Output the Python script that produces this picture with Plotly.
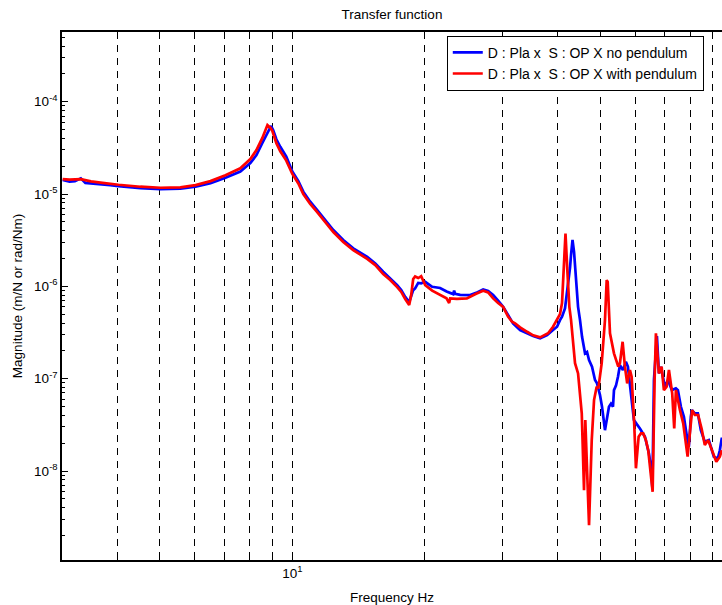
import math
import plotly.graph_objects as go

# ---- data ----
blue_f = [3.01, 3.12, 3.21, 3.31, 3.39, 3.58, 3.67, 3.86, 4.03, 4.52, 5.02, 5.57, 6.03, 6.52, 7.05, 7.62,
          8.03, 8.29, 8.55, 8.78, 8.95, 9.05, 9.20, 9.39, 9.69, 10.0, 10.32, 10.59, 10.98, 11.39, 11.88,
          12.39, 13.05, 13.75, 14.79, 15.43, 16.08, 16.68, 17.30, 17.67, 18.04, 18.42, 18.61, 18.81, 19.0,
          19.31, 19.61, 20.03, 20.77, 21.65, 22.4, 23.18, 23.30, 23.42, 24.04, 24.67, 25.33, 26.14, 27.11,
          27.83, 28.57, 29.32, 30.10, 30.88, 31.70, 32.89, 34.12, 35.21, 36.52, 37.87, 39.07, 39.90, 40.52,
          40.95, 41.59, 42.26, 42.70, 42.93, 43.26, 43.61, 44.06, 44.53, 44.99, 45.47, 46.18, 46.67, 47.16,
          47.90, 48.66, 49.17, 49.94, 50.47, 51.26, 51.80, 52.34, 52.89, 53.45, 53.73, 54.29, 54.86, 55.43,
          56.30, 57.18, 57.78, 58.71, 59.63, 60.57, 61.53, 63.17, 64.50, 65.17, 65.68, 66.21, 67.25, 67.96,
          68.67, 69.39, 70.12, 71.23, 72.73, 74.27, 75.05, 76.24, 77.44, 78.67, 79.47, 80.30, 80.72, 81.99,
          83.29, 84.60, 86.39, 88.22, 90.55, 92.47, 93.44, 94.43]
blue_m = [1.42e-5, 1.36e-5, 1.38e-5, 1.48e-5, 1.32e-5, 1.30e-5, 1.28e-5, 1.25e-5, 1.22e-5, 1.16e-5,
          1.13e-5, 1.14e-5, 1.20e-5, 1.31e-5, 1.50e-5, 1.75e-5, 2.17e-5, 2.64e-5, 3.57e-5, 4.55e-5,
          5.46e-5, 4.90e-5, 3.92e-5, 3.25e-5, 2.54e-5, 1.75e-5, 1.38e-5, 1.06e-5, 8.26e-6, 6.70e-6,
          5.22e-6, 4.07e-6, 3.18e-6, 2.58e-6, 2.09e-6, 1.77e-6, 1.44e-6, 1.22e-6, 1.03e-6, 9.1e-7,
          7.7e-7, 6.76e-7, 7.9e-7, 9.1e-7, 9.5e-7, 1.09e-6, 1.08e-6, 1.12e-6, 9.9e-7, 9.6e-7, 8.8e-7,
          8.25e-7, 9.0e-7, 8.3e-7, 8.1e-7, 8.05e-7, 8.05e-7, 8.5e-7, 9.28e-7, 8.9e-7, 8.05e-7, 7.0e-7,
          6.01e-7, 4.9e-7, 3.97e-7, 3.36e-7, 3.1e-7, 2.9e-7, 2.73e-7, 2.97e-7, 3.36e-7, 3.65e-7, 4.31e-7,
          4.69e-7, 5.78e-7, 9.9e-7, 1.6e-6, 2.2e-6, 3.18e-6, 2.35e-6, 1.27e-6, 6.0e-7, 4.31e-7, 2.84e-7,
          1.88e-7, 1.95e-7, 1.59e-7, 1.35e-7, 9.66e-8, 8.9e-8, 6.64e-8, 4.96e-8, 2.77e-8, 3.87e-8, 4.96e-8,
          5.36e-8, 4.96e-8, 7.52e-8, 8.4e-8, 1.05e-7, 1.4e-7, 1.24e-7, 1.52e-7, 1.35e-7, 6.93e-8, 3.56e-8,
          3.2e-8, 2.89e-8, 2.35e-8, 1.55e-8, 1.1e-8, 6.5e-9, 9.66e-8, 2.9e-7, 1.14e-7, 1.35e-7, 1.05e-7,
          8.17e-8, 9.66e-8, 7.52e-8, 7.85e-8, 7.52e-8, 4.96e-8, 3.87e-8, 2.35e-8, 1.83e-8, 3.87e-8, 4.57e-8,
          4.21e-8, 4.21e-8, 2.77e-8, 2.07e-8, 2.16e-8, 1.43e-8, 1.37e-8, 1.68e-8, 2.3e-8]

red_f = [3.01, 3.12, 3.31, 3.49, 3.67, 3.86, 4.03, 4.52, 5.02, 5.57, 6.03, 6.52, 7.05, 7.62, 8.03, 8.29,
         8.55, 8.78, 8.92, 9.01, 9.20, 9.39, 9.69, 10.0, 10.32, 10.59, 10.98, 11.39, 11.88, 12.39, 13.05,
         13.75, 14.79, 15.43, 16.08, 16.68, 17.30, 17.67, 18.04, 18.42, 18.61, 18.81, 19.0, 19.31, 19.61,
         20.03, 20.77, 21.65, 22.39, 22.70, 22.82, 23.63, 24.90, 26.14, 27.11, 27.83, 28.57, 29.32, 30.10,
         30.88, 31.54, 32.04, 32.89, 34.12, 35.21, 36.52, 38.07, 39.07, 39.90, 40.52, 40.95, 41.31, 41.70,
         42.10, 42.55, 42.93, 43.45, 43.83, 44.53, 44.99, 45.40, 45.94, 46.25, 47.16, 47.83, 48.41, 49.08,
         49.51, 50.39, 51.26, 51.72, 51.99, 52.62, 53.73, 54.95, 55.43, 56.21, 56.89, 57.57, 58.40, 58.92,
         59.72, 60.26, 61.12, 61.85, 62.60, 63.49, 64.26, 65.76, 66.44, 66.90, 67.96, 68.92, 69.75, 70.74,
         71.61, 72.84, 73.62, 74.27, 75.84, 77.16, 78.95, 80.84, 81.99, 83.42, 84.93, 86.39, 87.90, 89.92,
         91.73, 93.44, 94.43]
red_m = [1.45e-5, 1.43e-5, 1.45e-5, 1.37e-5, 1.33e-5, 1.29e-5, 1.26e-5, 1.20e-5, 1.17e-5, 1.18e-5,
         1.25e-5, 1.38e-5, 1.60e-5, 1.90e-5, 2.39e-5, 2.99e-5, 4.05e-5, 5.59e-5, 5.2e-5, 4.8e-5, 3.56e-5,
         2.9e-5, 2.3e-5, 1.65e-5, 1.30e-5, 1.0e-5, 7.8e-6, 6.38e-6, 4.91e-6, 3.88e-6, 3.02e-6, 2.47e-6,
         1.98e-6, 1.70e-6, 1.36e-6, 1.17e-6, 9.8e-7, 8.7e-7, 7.3e-7, 6.27e-7, 8.0e-7, 1.2e-6, 1.28e-6,
         1.23e-6, 1.29e-6, 1.03e-6, 9.0e-7, 8.05e-7, 7.41e-7, 6.6e-7, 7.4e-7, 7.3e-7, 7.41e-7, 8.3e-7,
         8.96e-7, 8.6e-7, 7.41e-7, 6.6e-7, 6.0e-7, 4.7e-7, 4.13e-7, 3.97e-7, 3.6e-7, 3.22e-7, 2.95e-7,
         2.8e-7, 3.1e-7, 3.65e-7, 4.31e-7, 5.0e-7, 6.6e-7, 1.38e-6, 3.74e-6, 1.5e-6, 6.0e-7, 4.3e-7,
         2.41e-7, 1.47e-7, 1.14e-7, 6.37e-8, 4.21e-8, 6.2e-9, 3.56e-8, 2.59e-9, 2.16e-8, 5.86e-8, 8.17e-8,
         7.85e-8, 1.47e-7, 4.31e-7, 1.17e-6, 1.12e-6, 3.1e-7, 1.88e-7, 1.35e-7, 1.47e-7, 2.51e-7, 1.35e-7,
         8.89e-8, 1.24e-7, 1.05e-7, 3.28e-8, 1.07e-8, 2.35e-8, 2.55e-8, 2.55e-8, 2.16e-8, 1.68e-8, 5.96e-9,
         9.66e-8, 3.1e-7, 1.14e-7, 1.35e-7, 7.52e-8, 8.17e-8, 1.24e-7, 6.93e-8, 2.89e-8, 7.52e-8, 4.57e-8,
         3.28e-8, 1.43e-8, 4.57e-8, 4.04e-8, 4.04e-8, 2.89e-8, 1.91e-8, 2.16e-8, 1.61e-8, 1.26e-8, 1.43e-8,
         1.68e-8]

x_tick_vals = [4, 5, 6, 7, 8, 9, 10, 20, 30, 40, 50, 60, 70, 80, 90]
x_tick_text = ["", "", "", "", "", "", "10<sup>1</sup>", "", "", "", "", "", "", "", ""]
y_tick_vals = [1e-8, 1e-7, 1e-6, 1e-5, 1e-4]
y_tick_text = ["10<sup>-8</sup>", "10<sup>-7</sup>", "10<sup>-6</sup>", "10<sup>-5</sup>", "10<sup>-4</sup>"]
y_minor_vals = [m * 10.0 ** e for e in range(-9, -3) for m in range(2, 10)]

series_names = ["D : Pla x  S : OP X no pendulum", "D : Pla x  S : OP X with pendulum"]

FONT = "Arial, Liberation Sans, sans-serif"
FS = 13.5

fig = go.Figure()
fig.add_trace(go.Scatter(x=blue_f, y=blue_m, mode="lines", name=series_names[0],
                         line=dict(color="#0000ff", width=2.7)))
fig.add_trace(go.Scatter(x=red_f, y=red_m, mode="lines", name=series_names[1],
                         line=dict(color="#ff0000", width=2.7)))

fig.update_layout(
    width=722, height=605,
    margin=dict(l=62, r=0, t=32, b=45),
    paper_bgcolor="white", plot_bgcolor="white",
    font=dict(family=FONT, size=FS, color="black"),
    title=dict(text="Transfer function", x=0.5, xref="paper", y=1 - 14 / 605, yref="container",
               xanchor="center", yanchor="middle", font=dict(size=FS, color="black")),
    showlegend=True,
    legend=dict(x=0.583, y=0.993, xanchor="left", yanchor="top", bgcolor="white",
                bordercolor="black", borderwidth=1, font=dict(size=FS + 0.5), itemwidth=30,
                tracegroupgap=0),
)
fig.update_xaxes(
    type="log", range=[math.log10(3.0), math.log10(94.5)],
    tickmode="array", tickvals=x_tick_vals, ticktext=x_tick_text,
    ticks="inside", ticklen=5, tickcolor="black", tickwidth=1,
    showline=True, linecolor="black", linewidth=1.5, mirror="ticks",
    showgrid=True, gridcolor="black", gridwidth=1, griddash="7px,6px",
    zeroline=False, title=dict(text="Frequency Hz", font=dict(size=FS)),
    tickfont=dict(size=FS),
)
fig.update_yaxes(
    type="log", range=[-8.964, -3.245],
    tickmode="array", tickvals=y_tick_vals, ticktext=y_tick_text,
    ticks="inside", ticklen=6, tickcolor="black", tickwidth=1,
    minor=dict(tickmode="array", tickvals=y_minor_vals, ticks="inside", ticklen=3,
               tickcolor="black", showgrid=False),
    showline=True, linecolor="black", linewidth=1.5, mirror=False,
    showgrid=False, zeroline=False,
    title=dict(text="Magnitude (m/N or rad/Nm)", font=dict(size=FS), standoff=8),
    tickfont=dict(size=FS),
)

fig.write_html("out.html")
